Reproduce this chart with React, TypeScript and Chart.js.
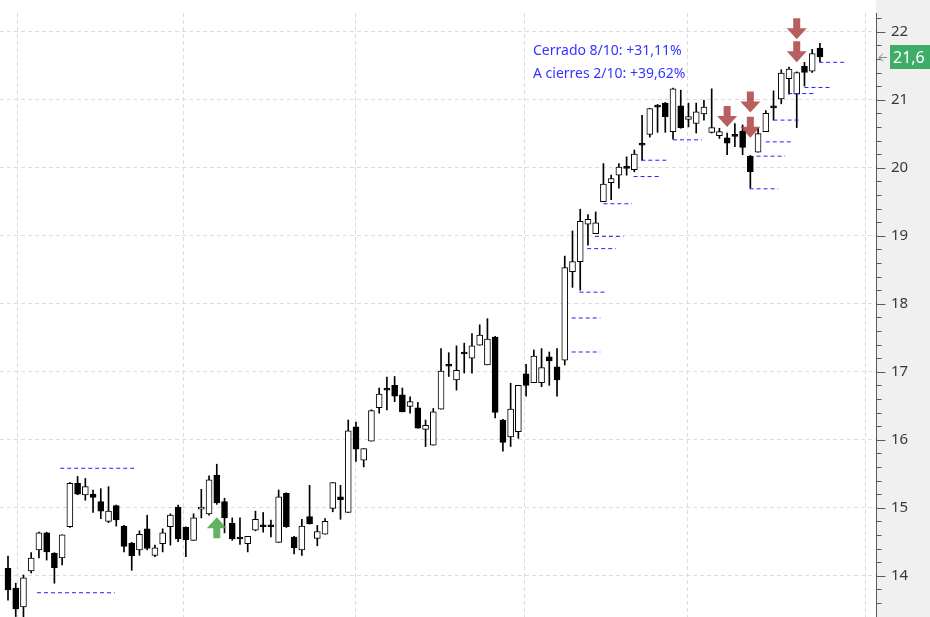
import React, { useEffect, useRef } from 'react';
import { Chart, registerables } from 'chart.js';

Chart.register(...registerables);

// ---- Candle data (daily OHLC) ----
const opens = [
  14.11, 13.82, 13.54, 14.07, 14.38, 14.63, 14.33, 14.26, 14.72, 15.36,
  15.19, 15.20, 15.09, 14.80, 15.03, 14.73, 14.48, 14.38, 14.69, 14.30,
  14.47, 14.72, 15.01, 14.71, 14.52, 14.98, 14.91, 15.48, 15.09, 14.77,
  14.55, 14.47, 14.67, 14.72, 14.72, 14.49, 15.21, 14.57, 14.38, 14.87,
  14.55, 14.61, 14.99, 15.16, 14.93, 16.19, 15.70, 15.98, 16.47, 16.73,
  16.80, 16.66, 16.49, 16.47, 16.15, 15.92, 16.45, 17.08, 16.88, 17.26,
  17.20, 17.39, 17.10, 17.51, 16.29, 16.04, 16.12, 16.97, 16.84, 16.84,
  17.22, 17.07, 17.17, 18.47, 18.62, 19.17, 19.03, 19.50, 19.78, 19.89,
  19.99, 19.97, 20.33, 20.49, 20.92, 20.95, 20.53, 20.91, 20.71, 20.65,
  20.79, 20.52, 20.47, 20.44, 20.46, 20.54, 20.17, 20.23, 20.53, 20.88,
  21.01, 21.31, 21.08, 21.49, 21.42, 21.76,
];
const highs = [
  14.29, 13.89, 14.01, 14.34, 14.64, 14.64, 14.34, 14.60, 15.37, 15.46,
  15.43, 15.26, 15.28, 15.31, 15.04, 14.74, 14.49, 14.66, 14.89, 14.45,
  14.69, 14.91, 15.04, 14.72, 14.91, 15.27, 15.47, 15.64, 15.14, 14.85,
  14.85, 14.58, 14.95, 14.93, 14.82, 15.26, 15.22, 14.58, 14.83, 15.33,
  14.74, 14.84, 15.37, 15.33, 16.29, 16.26, 15.87, 16.44, 16.76, 16.92,
  16.93, 16.76, 16.63, 16.55, 16.29, 16.46, 17.34, 17.28, 17.38, 17.42,
  17.56, 17.69, 17.78, 17.52, 16.30, 16.83, 16.80, 17.11, 17.32, 17.34,
  17.29, 17.34, 18.70, 19.07, 19.39, 19.31, 19.35, 20.06, 19.89, 20.06,
  20.16, 20.26, 20.77, 20.87, 20.93, 20.96, 21.17, 21.14, 20.95, 20.95,
  20.99, 21.16, 20.58, 20.51, 20.65, 20.63, 20.18, 20.58, 20.84, 21.13,
  21.44, 21.48, 21.41, 21.55, 21.74, 21.83,
];
const lows = [
  13.64, 13.40, 13.38, 14.04, 14.26, 14.23, 13.89, 14.16, 14.71, 15.19,
  15.11, 14.93, 14.84, 14.78, 14.73, 14.35, 14.08, 14.30, 14.38, 14.28,
  14.35, 14.45, 14.50, 14.28, 14.52, 14.85, 14.89, 15.05, 14.63, 14.52,
  14.46, 14.35, 14.66, 14.64, 14.57, 14.49, 14.71, 14.32, 14.30, 14.76,
  14.44, 14.61, 14.94, 14.83, 14.93, 15.68, 15.60, 15.98, 16.39, 16.44,
  16.56, 16.41, 16.39, 16.17, 15.90, 15.92, 16.45, 16.93, 16.73, 16.98,
  16.98, 17.39, 17.10, 16.32, 15.83, 15.90, 16.02, 16.64, 16.84, 16.78,
  16.80, 16.64, 17.10, 18.24, 18.20, 18.86, 19.03, 19.50, 19.53, 19.70,
  19.89, 19.94, 20.11, 20.45, 20.52, 20.52, 20.42, 20.58, 20.60, 20.51,
  20.70, 20.51, 20.43, 20.19, 20.31, 20.19, 19.70, 20.23, 20.53, 20.70,
  20.94, 21.08, 20.59, 21.20, 21.40, 21.56,
];
const closes = [
  13.79, 13.51, 13.97, 14.26, 14.63, 14.35, 14.12, 14.60, 15.36, 15.20,
  15.31, 15.15, 14.95, 14.95, 14.82, 14.43, 14.29, 14.61, 14.40, 14.41,
  14.63, 14.89, 14.54, 14.53, 14.85, 15.00, 15.41, 15.07, 14.85, 14.54,
  14.54, 14.58, 14.83, 14.72, 14.72, 15.16, 14.72, 14.41, 14.73, 14.76,
  14.65, 14.80, 15.37, 15.12, 16.13, 15.86, 15.87, 16.43, 16.67, 16.73,
  16.64, 16.41, 16.56, 16.17, 16.21, 16.41, 17.01, 17.08, 17.02, 17.26,
  17.38, 17.54, 17.48, 16.40, 15.96, 16.45, 16.80, 16.80, 17.23, 17.06,
  17.16, 16.88, 18.53, 18.62, 19.21, 19.24, 19.19, 19.76, 19.84, 20.01,
  19.99, 20.20, 20.33, 20.87, 20.89, 20.75, 21.16, 20.59, 20.75, 20.82,
  20.89, 20.59, 20.53, 20.36, 20.46, 20.30, 19.94, 20.50, 20.80, 20.88,
  21.39, 21.45, 21.40, 21.40, 21.68, 21.63,
];

// ---- Axis ticks ----
const yTickValues = [14, 15, 16, 17, 18, 19, 20, 21, 22];
const yTickLabels = ['14', '15', '16', '17', '18', '19', '20', '21', '22'];
const monthGridIdx = [1.29, 22.76, 45.0, 66.73, 87.93, 110.95];

// ---- Trailing stop levels (start bar, end bar, price) ----
const stopStart = [6.75, 3.75, 72.9, 72.9, 73.9, 74.9, 75.9, 77.0, 80.9, 81.9, 86.0, 95.9, 96.8, 98.0, 99.0, 100.9, 103.0, 104.9];
const stopEnd = [16.7, 13.8, 76.6, 76.6, 77.5, 78.6, 79.6, 80.7, 84.5, 85.4, 89.7, 99.6, 100.5, 101.6, 102.6, 104.5, 106.5, 108.5];
const stopLevel = [15.58, 13.75, 17.29, 17.79, 18.17, 18.81, 18.99, 19.47, 19.87, 20.11, 20.41, 19.69, 20.17, 20.38, 20.70, 21.09, 21.18, 21.55];

// ---- Signals ----
const sellIdx = [93, 96, 96, 102, 102];
const sellTip = [20.60, 20.81, 20.44, 21.89, 21.55];
const buyIdx = [27];
const buyTip = [14.86];

const statsLines = ['Cerrado 8/10: +31,11%', 'A cierres 2/10: +39,62%'];

const FONT = '"Noto Sans", "DejaVu Sans", sans-serif';

function drawArrow(ctx: CanvasRenderingContext2D, cx: number, tipY: number, dir: number) {
  const total = 21, head = 11, hw = 10, sw = 3.5;
  const baseY = tipY - dir * head;
  const tailY = tipY - dir * total;
  ctx.beginPath();
  ctx.moveTo(cx - sw, tailY);
  ctx.lineTo(cx + sw, tailY);
  ctx.lineTo(cx + sw, baseY);
  ctx.lineTo(cx + hw, baseY);
  ctx.lineTo(cx, tipY);
  ctx.lineTo(cx - hw, baseY);
  ctx.lineTo(cx - sw, baseY);
  ctx.closePath();
  ctx.fill();
}

const decorPlugin = {
  id: 'decor',
  beforeDraw(chart: any) {
    const { ctx, chartArea, width, height } = chart;
    ctx.save();
    ctx.fillStyle = '#ffffff';
    ctx.fillRect(0, 0, width, height);
    ctx.fillStyle = '#f0f0f0';
    ctx.fillRect(chartArea.right, 0, width - chartArea.right, height);
    ctx.restore();
  },
  afterDatasetsDraw(chart: any) {
    const { ctx, scales } = chart;
    const x = scales.x, y = scales.y;
    ctx.save();
    ctx.fillStyle = 'rgba(168,58,58,0.82)';
    sellIdx.forEach((i, k) => drawArrow(ctx, x.getPixelForValue(i), y.getPixelForValue(sellTip[k]), 1));
    ctx.fillStyle = 'rgba(72,165,72,0.85)';
    buyIdx.forEach((i, k) => drawArrow(ctx, x.getPixelForValue(i), y.getPixelForValue(buyTip[k]), -1));
    ctx.restore();
  },
  afterDraw(chart: any) {
    const { ctx, chartArea, scales } = chart;
    const y = scales.y;
    const ax = chartArea.right + 0.5;
    ctx.save();
    // axis line
    ctx.strokeStyle = '#5a5a5a';
    ctx.lineWidth = 1;
    ctx.beginPath();
    ctx.moveTo(ax, chartArea.top);
    ctx.lineTo(ax, chartArea.bottom);
    ctx.stroke();
    // major + minor ticks
    const kMin = Math.ceil(y.min * 5 - 1e-6);
    const kMax = Math.floor(y.max * 5 + 1e-6);
    ctx.beginPath();
    for (let k = kMin; k <= kMax; k++) {
      const py = Math.round(y.getPixelForValue(k / 5)) + 0.5;
      const len = k % 5 === 0 ? 9 : 5;
      ctx.moveTo(ax, py);
      ctx.lineTo(ax + len, py);
    }
    ctx.stroke();

    // last price tag
    const last = closes[closes.length - 1];
    const py = Math.round(y.getPixelForValue(last));
    ctx.fillStyle = '#3dad67';
    ctx.fillRect(890, py - 12, 42, 24);
    ctx.fillStyle = '#ffffff';
    ctx.font = `16px ${FONT}`;
    ctx.textBaseline = 'middle';
    ctx.textAlign = 'left';
    ctx.fillText(last.toFixed(1).replace('.', ','), 893, py + 1);
    // small arrow pointing to axis
    ctx.strokeStyle = '#8a8a8a';
    ctx.beginPath();
    ctx.moveTo(887, py + 0.5);
    ctx.lineTo(879, py + 0.5);
    ctx.moveTo(883, py - 3.5);
    ctx.lineTo(879, py + 0.5);
    ctx.lineTo(883, py + 4.5);
    ctx.stroke();

    // stats text
    ctx.fillStyle = '#3434ff';
    ctx.font = `14px ${FONT}`;
    ctx.textBaseline = 'alphabetic';
    ctx.fillText(statsLines[0], chartArea.left + 533, 55);
    ctx.fillText(statsLines[1], chartArea.left + 533, 78);
    ctx.restore();
  },
};

export default function App() {
  const ref = useRef<HTMLCanvasElement>(null);
  useEffect(() => {
    const canvas = ref.current;
    if (!canvas) return;
    const idx = opens.map((_, i) => i);
    const wickData = idx.map((i) => ({ x: i, y: [lows[i], highs[i]] }));
    const bodyData = idx.map((i) => ({ x: i, y: [Math.min(opens[i], closes[i]), Math.max(opens[i], closes[i])] }));
    const bodyFill = idx.map((i) => (closes[i] > opens[i] ? '#ffffff' : '#000000'));

    const stopSets = stopLevel.map((p, k) => ({
      type: 'line' as const,
      data: [
        { x: stopStart[k], y: p },
        { x: stopEnd[k], y: p },
      ],
      borderColor: '#2020ff',
      borderWidth: 1,
      borderDash: [4, 3],
      pointRadius: 0,
      fill: false,
      order: 0,
    }));

    const chart = new Chart(canvas, {
      type: 'bar',
      data: {
        datasets: [
          {
            type: 'bar',
            data: wickData as any,
            backgroundColor: '#000000',
            borderWidth: 0,
            barThickness: 1,
            grouped: false,
            order: 3,
          } as any,
          {
            type: 'bar',
            data: bodyData as any,
            backgroundColor: bodyFill,
            borderColor: '#000000',
            borderWidth: 1,
            borderSkipped: false,
            barThickness: 6,
            minBarLength: 2,
            grouped: false,
            order: 2,
          } as any,
          ...(stopSets as any[]),
        ],
      },
      options: {
        responsive: false,
        animation: false,
        events: [],
        layout: { padding: { top: 13, left: 0, right: 0, bottom: 0 } },
        plugins: { legend: { display: false }, tooltip: { enabled: false } },
        scales: {
          x: {
            type: 'linear',
            min: -1.0345,
            max: 112.25,
            offset: false,
            afterBuildTicks: (scale: any) => {
              scale.ticks = monthGridIdx.map((v) => ({ value: v }));
            },
            afterFit: (scale: any) => {
              scale.height = 0;
              scale.paddingLeft = 0;
              scale.paddingRight = 0;
            },
            ticks: { display: false },
            grid: { color: '#dcdcdc', drawTicks: false, offset: false },
            border: { display: false, dash: [4, 3] },
          },
          y: {
            type: 'linear',
            position: 'right',
            min: 13.393,
            max: 22.275,
            afterBuildTicks: (scale: any) => {
              scale.ticks = yTickValues.map((v) => ({ value: v }));
            },
            afterFit: (scale: any) => {
              scale.width = 54;
              scale.paddingTop = 0;
              scale.paddingBottom = 0;
            },
            ticks: {
              padding: 15,
              color: '#383838',
              font: { family: FONT, size: 15 },
              callback: (_v: any, i: number) => yTickLabels[i],
            },
            grid: { color: '#dcdcdc', drawTicks: false },
            border: { display: false, dash: [4, 3] },
          },
        },
      } as any,
      plugins: [decorPlugin],
    });
    return () => chart.destroy();
  }, []);
  return (
    <canvas
      ref={ref}
      width={930}
      height={617}
      style={{ display: 'block', position: 'fixed', left: 0, top: 0, width: 930, height: 617 }}
    />
  );
}
